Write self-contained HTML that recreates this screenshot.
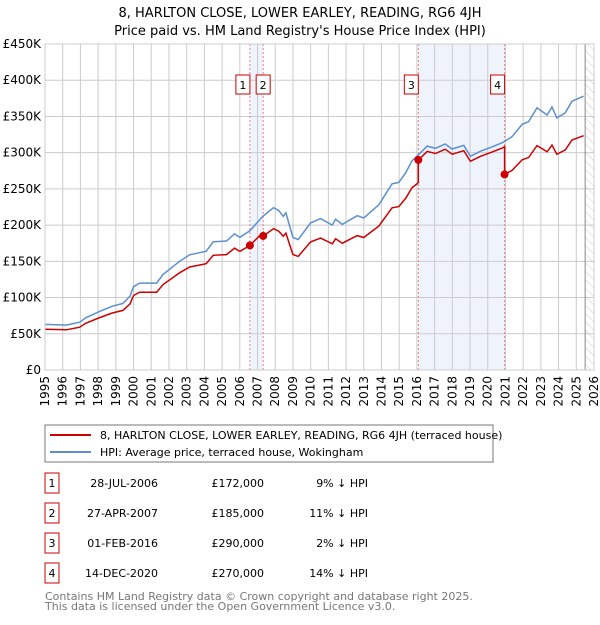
<!DOCTYPE html>
<html><head><meta charset="utf-8"><style>
body{margin:0;background:#fff}
svg{font-family:"DejaVu Sans","Liberation Sans",sans-serif}
</style></head><body>
<svg id="c" width="600" height="620" viewBox="0 0 600 620">
<text x="300" y="17" text-anchor="middle" font-size="13">8, HARLTON CLOSE, LOWER EARLEY, READING, RG6 4JH</text>
<text x="300" y="35" text-anchor="middle" font-size="13">Price paid vs. HM Land Registry's House Price Index (HPI)</text>
<g id="plot"></g>
<rect x="45" y="425" width="448" height="37" fill="#fff" stroke="#777"/>
<line x1="50" y1="435" x2="91" y2="435" stroke="#cc0000" stroke-width="2"/>
<text x="100" y="439" font-size="11">8, HARLTON CLOSE, LOWER EARLEY, READING, RG6 4JH (terraced house)</text>
<line x1="50" y1="452" x2="91" y2="452" stroke="#5b8fd0" stroke-width="2"/>
<text x="100" y="456" font-size="11">HPI: Average price, terraced house, Wokingham</text>
<g id="tbl"></g>
<text x="45" y="600" font-size="11" fill="#777">Contains HM Land Registry data © Crown copyright and database right 2025.</text>
<text x="45" y="610" font-size="11" fill="#777">This data is licensed under the Open Government Licence v3.0.</text>
</svg>
<script>
const hpiYears=[1995,1996.2,1996.96,1997.3,1998.1,1998.8,1999.4,1999.8,2000.0,2000.35,2001.3,2001.67,2002.6,2003.17,2004.1,2004.5,2005.25,2005.7,2006.0,2006.56,2007.3,2007.9,2008.2,2008.45,2008.6,2009.0,2009.3,2010.0,2010.56,2011.22,2011.41,2011.79,2012.63,2013.0,2013.38,2013.85,2014.6,2014.98,2015.36,2015.73,2016.0,2016.58,2017.05,2017.6,2017.99,2018.65,2019.02,2019.59,2020.24,2020.85,2021.37,2021.94,2022.31,2022.78,2023.35,2023.63,2023.9,2024.38,2024.76,2025.41];
const hpiValues=[63,62,66,72,81,88,92,102,115,120,120,132,150,159,164,177,178,188,183,192,212,224,220,212,217,183,180,203,209,200,208,201,213,210,218,228,257,259,272,289,295,309,306,312,305,310,295,302,308,314,322,339,343,362,352,363,348,355,371,378];
const saleDates=[2006.57,2007.32,2016.08,2020.95];
const salePrices=[172,185,290,270];
const saleLabels=["1","2","3","4"];
const saleDateText=["28-JUL-2006","27-APR-2007","01-FEB-2016","14-DEC-2020"];
const salePriceText=["£172,000","£185,000","£290,000","£270,000"];
const saleDiffText=["9% ↓ HPI","11% ↓ HPI","2% ↓ HPI","14% ↓ HPI"];
const yTicks=[0,50,100,150,200,250,300,350,400,450];
const xTicks=[1995,1996,1997,1998,1999,2000,2001,2002,2003,2004,2005,2006,2007,2008,2009,2010,2011,2012,2013,2014,2015,2016,2017,2018,2019,2020,2021,2022,2023,2024,2025,2026];

const X0=45,X1=594,Y0=370,Y1=44;
const xs=t=>X0+(t-1995)/(2026-1995)*(X1-X0);
const ys=v=>Y0-v/450*(Y0-Y1);
const NS="http://www.w3.org/2000/svg";
const plot=document.getElementById('plot');
function mk(tag,attrs,parent){const e=document.createElementNS(NS,tag);for(const k in attrs)e.setAttribute(k,attrs[k]);(parent||plot).appendChild(e);return e;}
function hpiAt(t){if(t<=hpiYears[0])return hpiValues[0];for(let i=1;i<hpiYears.length;i++){if(t<=hpiYears[i]){const f=(t-hpiYears[i-1])/(hpiYears[i]-hpiYears[i-1]);return hpiValues[i-1]+f*(hpiValues[i]-hpiValues[i-1]);}}return hpiValues[hpiValues.length-1];}

let s=mk('rect',{x:xs(saleDates[0]),y:Y1,width:xs(saleDates[1])-xs(saleDates[0]),height:Y0-Y1,fill:'#eef3fc'});


s=mk('rect',{x:xs(saleDates[2]),y:Y1,width:xs(saleDates[3])-xs(saleDates[2]),height:Y0-Y1,fill:'#eef3fc'});


const defs=mk('defs',{});
const pat=mk('pattern',{id:'h',width:6,height:6,patternUnits:'userSpaceOnUse',patternTransform:'rotate(-45)'},defs);
mk('line',{x1:0,y1:0,x2:0,y2:6,stroke:'#ccc','stroke-width':1},pat);
s=mk('rect',{x:xs(2025.5),y:Y1,width:X1-xs(2025.5),height:Y0-Y1,fill:'url(#h)'});


yTicks.forEach(v=>{
 const l=mk('line',{x1:X0,x2:X1,y1:ys(v),y2:ys(v),stroke:'#ccc'});
 
 
 const t=mk('text',{x:X0-4,y:ys(v)+4,'text-anchor':'end','font-size':12});
 t.textContent=v===0?'£0':'£'+v+'K';
 
 
});
xTicks.forEach(y=>{
 const l=mk('line',{x1:xs(y),x2:xs(y),y1:Y1,y2:Y0,stroke:'#ccc'});
 
 
 const t=mk('text',{transform:`translate(${xs(y)+4},${Y0+6}) rotate(-90)`,'text-anchor':'end','font-size':12});
 t.textContent=y;
 
 
});
s=mk('line',{x1:xs(2025.5),x2:xs(2025.5),y1:Y1,y2:Y0,stroke:'#888'});


saleDates.forEach((d,i)=>{
 const l=mk('line',{x1:xs(d),x2:xs(d),y1:Y1,y2:Y0,stroke:'#f08080','stroke-dasharray':'2,2'});
 
 
});
let pts=hpiYears.map((t,i)=>xs(t).toFixed(1)+','+ys(hpiValues[i]).toFixed(1)).join(' ');
s=mk('polyline',{points:pts,fill:'none',stroke:'#5b8fd0','stroke-width':1.5});


function priceAt(t){let k=0;for(let i=0;i<saleDates.length;i++)if(t>=saleDates[i])k=i;return salePrices[k]*hpiAt(t)/hpiAt(saleDates[k]);}
let rp=[];
const ts=[...hpiYears,...saleDates].sort((a,b)=>a-b);
ts.forEach(t=>{
 const k=saleDates.indexOf(t);
 if(k>0){const prev=salePrices[k-1]*hpiAt(t)/hpiAt(saleDates[k-1]);rp.push([t,prev]);}
 rp.push([t,priceAt(t)]);
});
s=mk('polyline',{points:rp.map(p=>xs(p[0]).toFixed(1)+','+ys(p[1]).toFixed(1)).join(' '),fill:'none',stroke:'#cc0000','stroke-width':1.5});


saleDates.forEach((d,i)=>{
 const c=mk('circle',{cx:xs(d),cy:ys(salePrices[i]),r:4,fill:'#cc0000'});
 
 
 const bx=i===1?xs(d)-7:xs(d)-14;
 const r=mk('rect',{x:bx,y:75,width:14,height:19,fill:'#fff',stroke:'#cc0000'});
 
 
 const t=mk('text',{x:bx+7,y:89,'text-anchor':'middle','font-size':11});
 t.textContent=saleLabels[i];
 
 
});
s=mk('rect',{x:X0,y:Y1,width:X1-X0,height:Y0-Y1,fill:'none',stroke:'#ccc'});


const tbl=document.getElementById('tbl');
saleLabels.forEach((lb,i)=>{
 const cy=483+i*30;
 const r=mk('rect',{x:45,y:cy-10,width:14,height:20,fill:'#fff',stroke:'#cc0000'},tbl);
 
 
 let t=mk('text',{x:52,y:cy+4,'text-anchor':'middle','font-size':11},tbl);t.textContent=lb;
 
 
 t=mk('text',{x:158,y:cy+4,'text-anchor':'end','font-size':11},tbl);t.textContent=saleDateText[i];
 
 
 t=mk('text',{x:264,y:cy+4,'text-anchor':'end','font-size':11},tbl);t.textContent=salePriceText[i];
 
 
 t=mk('text',{x:368,y:cy+4,'text-anchor':'end','font-size':11},tbl);t.textContent=saleDiffText[i];
 
 
});
</script>
</body></html>
